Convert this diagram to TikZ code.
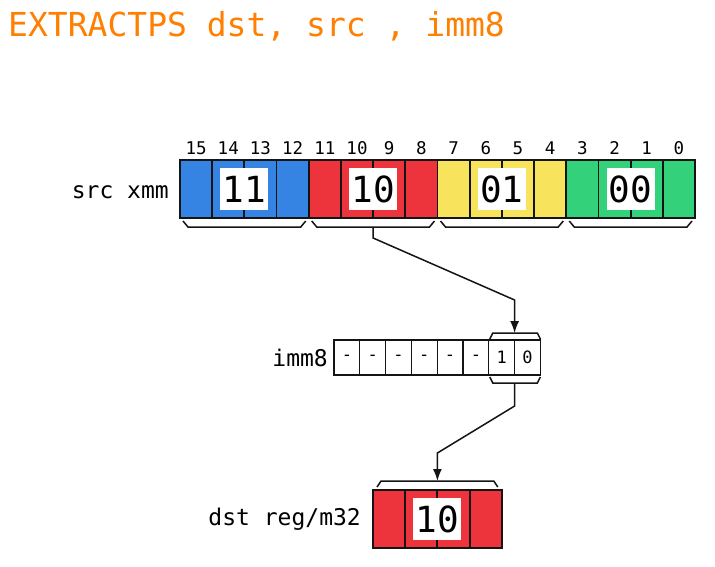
\documentclass[tikz,border=0pt]{standalone}
\usepackage{fontspec}
\newfontfamily\mono{DejaVu Sans Mono}
\usetikzlibrary{calc,arrows.meta}
\definecolor{cblue}{RGB}{53,132,228}
\definecolor{cred}{RGB}{237,51,59}
\definecolor{cyellow}{RGB}{248,228,92}
\definecolor{cgreen}{RGB}{51,209,122}
\definecolor{corange}{RGB}{255,127,0}
\definecolor{cline}{RGB}{20,20,20}
\begin{document}
\begin{tikzpicture}[x=1pt,y=-1pt,
  cell/.style={draw=cline, line width=1.8pt, minimum width=32.19pt, minimum height=58pt, inner sep=0pt, outer sep=0pt},
  icell/.style={draw=cline, line width=1.3pt, minimum width=25.8pt, minimum height=35pt, inner sep=0pt, outer sep=0pt, font=\mono\fontsize{17}{17}\selectfont},
  vbox/.style={fill=white, minimum width=48pt, minimum height=42pt, inner sep=0pt, font=\mono\fontsize{36}{36}\selectfont},
  bitnum/.style={anchor=base, inner sep=0pt, font=\mono\fontsize{17.5}{17.5}\selectfont},
  reglabel/.style={anchor=base east, inner sep=0pt, font=\mono\fontsize{23}{23}\selectfont},
  brace/.style={draw=cline, line width=1.5pt},
  conn/.style={draw=cline, line width=1.5pt, -{Latex[length=12pt,width=9pt]}}
]
\useasboundingbox (0,0) rectangle (715,566);
\fill[white] (0,0) rectangle (715,566);

% title
\node[anchor=base west, inner sep=0pt, text=corange, font=\mono\fontsize{33}{33}\selectfont] (title) at (8,36) {EXTRACTPS dst, src , imm8};

% src register
\foreach \g/\c/\v in {3/cblue/11, 2/cred/10, 1/cyellow/01, 0/cgreen/00} {
  \foreach \k in {0,...,3} {
    \pgfmathtruncatemacro\i{4*\g+\k}
    \node[cell, fill=\c] (s\i) at ({180+(15-\i)*32.1875+16.09}, 189) {};
    \node[bitnum] (n\i) at ($(s\i.north)+(0,-6)$) {\i};
  }
  \pgfmathtruncatemacro\m{4*\g+2}
  \pgfmathtruncatemacro\hi{4*\g+3}
  \pgfmathtruncatemacro\lo{4*\g}
  \node[vbox] (v\g) at (s\m.east) {\v};
  \draw[brace] ($(s\hi.south west)+(3,3)$) -- ++(5,6) -- ($(s\lo.south east)+(-8,9)$) -- ++(5,-6);
  \coordinate (bm\g) at ($(s\hi.south west)!0.5!(s\lo.south east)+(0,9)$);
}
\node[reglabel] (srclbl) at ($(s15.west)+(-11,9)$) {src xmm};

% imm8
\foreach \i/\t in {7/-,6/-,5/-,4/-,3/-,2/-,1/1,0/0} {
  \node[icell] (i\i) at ({334+(7-\i)*25.8+12.9}, 357.5) {\t};
}
\node[reglabel] (immlbl) at ($(i7.west)+(-6,8.5)$) {imm8};
\draw[brace] ($(i1.north west)+(1,-1)$) -- ++(3,-6) -- ($(i0.north east)+(-3,-7)$) -- ++(3,6);
\draw[brace] ($(i1.south west)+(1,2)$) -- ++(3,6) -- ($(i0.south east)+(-3,8)$) -- ++(3,-6);
\coordinate (ibt) at ($(i1.north east)+(0,-7)$);
\coordinate (ibb) at ($(i1.south east)+(0,8)$);

% dst
\foreach \i in {0,...,3} {
  \node[cell, fill=cred] (d\i) at ({373+(3-\i)*32.2+16.1}, 519) {};
}
\node[vbox] (dv) at (d2.east) {10};
\node[reglabel] (dstlbl) at ($(d3.west)+(-12,6)$) {dst reg/m32};
\draw[brace] ($(d3.north west)+(4,-3)$) -- ++(4,-6) -- ($(d0.north east)+(-8,-9)$) -- ++(4,6);
\coordinate (dbt) at ($(d3.north west)!0.5!(d0.north east)+(0,-9)$);

% connectors
\draw[conn] (bm2) -- ++(0,11) -- ($(ibt)+(0,-33)$) -- (ibt);
\draw[conn] (ibb) -- ++(0,23) -- ($(dbt)+(0,-28)$) -- (dbt);
\end{tikzpicture}
\end{document}
